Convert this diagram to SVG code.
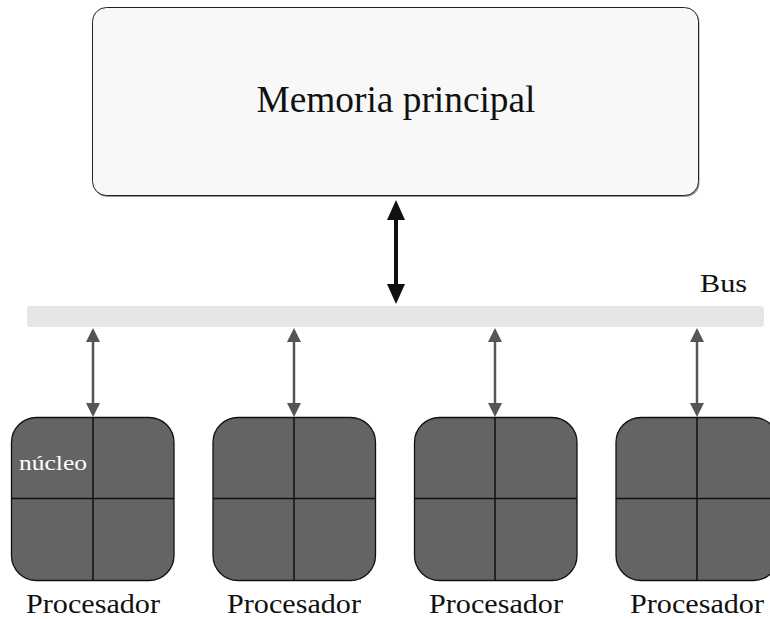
<svg xmlns="http://www.w3.org/2000/svg" width="770" height="619" viewBox="0 0 770 619">
  <style>
    .serif { font-family: "Liberation Serif", "DejaVu Serif", serif; fill: #111; }
    .cpu { fill: #646464; stroke: #111; stroke-width: 1.3; }
    .grid { stroke: #111; stroke-width: 1.5; fill: none; }
    .link { stroke: #555; stroke-width: 2.5; fill: none; marker-start: url(#headSmall); marker-end: url(#headSmall); }
    .main { stroke: #111; stroke-width: 4; fill: none; marker-start: url(#headBig); marker-end: url(#headBig); }
  </style>
  <defs>
    <marker id="headSmall" markerUnits="userSpaceOnUse" markerWidth="14" markerHeight="14" refX="0" refY="7" orient="auto-start-reverse">
      <path d="M0,0 L14,7 L0,14 z" fill="#555"/>
    </marker>
    <marker id="headBig" markerUnits="userSpaceOnUse" markerWidth="20" markerHeight="18" refX="0" refY="9" orient="auto-start-reverse">
      <path d="M0,0 L20,9 L0,18 z" fill="#111"/>
    </marker>
  </defs>

  <rect width="770" height="619" fill="#fff"/>

  <!-- main memory -->
  <g id="memoria">
    <rect x="93.5" y="8.5" width="606" height="188.5" rx="14" fill="#999"/>
    <rect x="92.5" y="7.5" width="606" height="188" rx="14" fill="#f8f8f8" stroke="#222" stroke-width="1"/>
    <text class="serif" x="396" y="112" font-size="37" text-anchor="middle" textLength="279" lengthAdjust="spacingAndGlyphs">Memoria principal</text>
  </g>

  <!-- shared bus -->
  <g id="bus">
    <rect x="27" y="306" width="737" height="21" rx="3" fill="#e6e6e6"/>
    <text class="serif" x="747" y="292" font-size="25" text-anchor="end" textLength="47" lengthAdjust="spacingAndGlyphs">Bus</text>
  </g>

  <!-- connectors -->
  <g id="connectors">
    <path class="main" d="M396,220 L396,284"/>
    <path class="link" d="M93,342 L93,403"/>
    <path class="link" d="M294,342 L294,403"/>
    <path class="link" d="M495,342 L495,403"/>
    <path class="link" d="M697,342 L697,403"/>
  </g>

  <!-- processors, four cores each -->
  <g id="cpu1">
    <rect class="cpu" x="11.5" y="417.5" width="162.5" height="163" rx="25"/>
    <path class="grid" d="M93,417.5 V580.5 M11.5,498.5 H174"/>
    <text x="19" y="470" font-size="21" fill="#fff" font-family="Liberation Serif, DejaVu Serif, serif" textLength="68" lengthAdjust="spacingAndGlyphs">núcleo</text>
    <text class="serif" x="93" y="613" font-size="28" text-anchor="middle" textLength="134" lengthAdjust="spacingAndGlyphs">Procesador</text>
  </g>
  <g id="cpu2">
    <rect class="cpu" x="213" y="417.5" width="162.5" height="163" rx="25"/>
    <path class="grid" d="M294,417.5 V580.5 M213,498.5 H375.5"/>
    <text class="serif" x="294" y="613" font-size="28" text-anchor="middle" textLength="134" lengthAdjust="spacingAndGlyphs">Procesador</text>
  </g>
  <g id="cpu3">
    <rect class="cpu" x="414.5" y="417.5" width="162.5" height="163" rx="25"/>
    <path class="grid" d="M495,417.5 V580.5 M414.5,498.5 H577"/>
    <text class="serif" x="496" y="613" font-size="28" text-anchor="middle" textLength="134" lengthAdjust="spacingAndGlyphs">Procesador</text>
  </g>
  <g id="cpu4">
    <rect class="cpu" x="616" y="417.5" width="162.5" height="163" rx="25"/>
    <path class="grid" d="M697,417.5 V580.5 M616,498.5 H778.5"/>
    <text class="serif" x="697" y="613" font-size="28" text-anchor="middle" textLength="134" lengthAdjust="spacingAndGlyphs">Procesador</text>
  </g>
</svg>
